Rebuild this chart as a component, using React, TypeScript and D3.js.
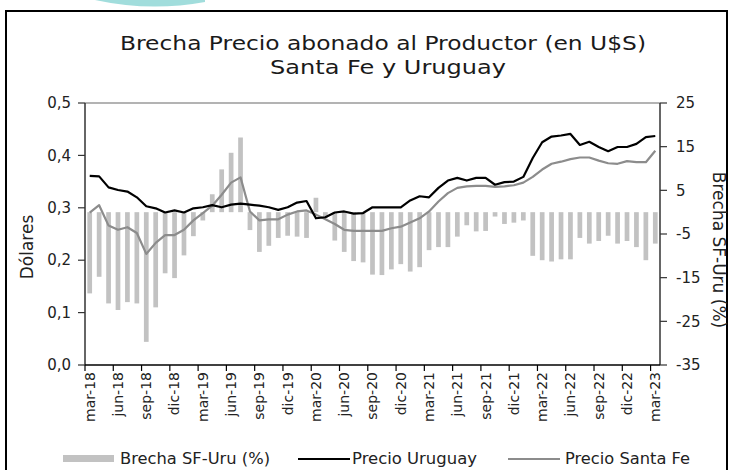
import React from "react";
import * as d3 from "d3";

const categories = [
  "mar-18","abr-18","may-18","jun-18","jul-18","ago-18","sep-18","oct-18","nov-18","dic-18","ene-19","feb-19",
  "mar-19","abr-19","may-19","jun-19","jul-19","ago-19","sep-19","oct-19","nov-19","dic-19","ene-20","feb-20",
  "mar-20","abr-20","may-20","jun-20","jul-20","ago-20","sep-20","oct-20","nov-20","dic-20","ene-21","feb-21",
  "mar-21","abr-21","may-21","jun-21","jul-21","ago-21","sep-21","oct-21","nov-21","dic-21","ene-22","feb-22",
  "mar-22","abr-22","may-22","jun-22","jul-22","ago-22","sep-22","oct-22","nov-22","dic-22","ene-23","feb-23",
  "mar-23",
];

const tickLabels = [
  "mar-18","jun-18","sep-18","dic-18","mar-19","jun-19","sep-19","dic-19","mar-20","jun-20","sep-20",
  "dic-20","mar-21","jun-21","sep-21","dic-21","mar-22","jun-22","sep-22","dic-22","mar-23",
];

const brecha = [
  -18.6,-14.8,-20.9,-22.4,-20.6,-20.9,-29.7,-21.8,-14.0,-15.1,
  -9.9,-5.5,-1.9,4.1,9.8,13.6,17.1,-4.1,-9.1,-7.7,
  -5.9,-5.4,-5.6,-5.9,3.3,-1.4,-6.5,-9.1,-11.2,-11.5,
  -14.3,-14.4,-13.1,-11.9,-13.6,-12.6,-8.7,-8.0,-8.0,-5.6,
  -3.0,-4.4,-4.3,-1.0,-2.7,-2.4,-1.9,-10.0,-11.0,-11.3,
  -10.8,-10.8,-5.9,-7.2,-6.6,-5.4,-7.2,-6.6,-8.0,-11.0,-7.2,
];

const precioUruguay = [
  0.361,0.360,0.339,0.334,0.331,0.320,0.303,0.299,0.291,0.295,
  0.291,0.299,0.301,0.305,0.301,0.306,0.308,0.306,0.304,0.301,
  0.296,0.301,0.310,0.313,0.280,0.282,0.291,0.293,0.289,0.290,
  0.301,0.301,0.301,0.301,0.314,0.322,0.320,0.338,0.352,0.357,
  0.352,0.357,0.357,0.344,0.349,0.350,0.359,0.395,0.425,0.436,
  0.438,0.441,0.420,0.426,0.416,0.408,0.416,0.416,0.422,0.435,0.437,
];

const precioSantaFe = [
  0.291,0.305,0.266,0.258,0.263,0.252,0.212,0.233,0.248,0.248,
  0.258,0.276,0.290,0.304,0.325,0.348,0.358,0.293,0.276,0.278,
  0.278,0.287,0.293,0.295,0.287,0.278,0.269,0.258,0.256,0.256,
  0.256,0.256,0.261,0.264,0.272,0.280,0.293,0.312,0.328,0.338,
  0.341,0.342,0.342,0.340,0.341,0.343,0.348,0.359,0.373,0.384,
  0.388,0.393,0.396,0.396,0.390,0.385,0.384,0.389,0.387,0.387,0.409,
];

const leftTicks = [0, 0.1, 0.2, 0.3, 0.4, 0.5];
const rightTicks = [-35, -25, -15, -5, 5, 15, 25];

const FONT = "'DejaVu Sans', sans-serif";

export default function App() {
  const L = 85, R = 660, T = 103, B = 365;
  const x = d3.scaleBand<string>().domain(categories).range([L, R]).paddingInner(0.5).paddingOuter(0.25);
  const step = x.step();
  const yL = d3.scaleLinear().domain([0, 0.5]).range([B, T]);
  const yR = d3.scaleLinear().domain([-35, 25]).range([B, T]);
  const cx = (c: string) => (x(c) as number) + x.bandwidth() / 2;
  const bandStart = (c: string) => L + categories.indexOf(c) * step;

  const lineGen = d3.line<number>().x((_, i) => cx(categories[i])).y((d) => yL(d));
  const fmt = (v: number) => v.toFixed(1).replace(".", ",");

  return (
    <svg width={731} height={470} style={{ position: "absolute", left: 0, top: 0, background: "#fff" }}>
      <rect x={0} y={0} width={731} height={470} fill="#fff" />
      <path d="M95,0 Q150,12 205,2 L205,0 Z" fill="#62c6c4" opacity={0.6} />
      <rect x={6} y={11} width={721} height={475} fill="none" stroke="#000" strokeWidth={2} />

      <text x={383} y={50} textAnchor="middle" fontFamily={FONT} fontSize={20} fill="#1a1a1a" textLength={526} lengthAdjust="spacingAndGlyphs">
        Brecha Precio abonado al Productor (en U$S)
      </text>
      <text x={388} y={74} textAnchor="middle" fontFamily={FONT} fontSize={20} fill="#1a1a1a" textLength={236} lengthAdjust="spacingAndGlyphs">
        Santa Fe y Uruguay
      </text>

      <line x1={L} x2={R} y1={T} y2={T} stroke="#9a9a9a" strokeWidth={1.5} />

      {categories.map((c, i) => {
        const v = brecha[i];
        const y0 = yR(0), y1 = yR(v);
        return (
          <rect key={c} x={x(c)} width={x.bandwidth()} y={Math.min(y0, y1)} height={Math.abs(y1 - y0)} fill="#c2c2c2" />
        );
      })}

      <path d={lineGen(precioSantaFe) as string} fill="none" stroke="#8c8c8c" strokeWidth={2.2} strokeLinejoin="round" />
      <path d={lineGen(precioUruguay) as string} fill="none" stroke="#000" strokeWidth={2.2} strokeLinejoin="round" />

      <line x1={L} x2={L} y1={T} y2={B} stroke="#333" strokeWidth={1.5} />
      <line x1={R} x2={R} y1={T} y2={B} stroke="#333" strokeWidth={1.5} />
      <line x1={L} x2={R} y1={B} y2={B} stroke="#000" strokeWidth={1.5} />

      {leftTicks.map((t) => (
        <g key={"l" + t}>
          <line x1={L - 7} x2={L} y1={yL(t)} y2={yL(t)} stroke="#333" strokeWidth={1.2} />
          <text x={71} y={yL(t)} dy="0.35em" textAnchor="end" fontFamily={FONT} fontSize={15} fill="#222">
            {fmt(t)}
          </text>
        </g>
      ))}
      {rightTicks.map((t) => (
        <g key={"r" + t}>
          <line x1={R} x2={R + 7} y1={yR(t)} y2={yR(t)} stroke="#333" strokeWidth={1.2} />
          <text x={676} y={yR(t)} dy="0.35em" textAnchor="start" fontFamily={FONT} fontSize={15} fill="#222">
            {t}
          </text>
        </g>
      ))}

      {tickLabels.map((lab) => (
        <g key={lab}>
          <line x1={bandStart(lab)} x2={bandStart(lab)} y1={B} y2={B + 6} stroke="#000" strokeWidth={1.2} />
          <text
            transform={`translate(${cx(lab)},${B + 7}) rotate(-90)`}
            textAnchor="end"
            dy="0.35em"
            fontFamily={FONT}
            fontSize={14}
            fill="#222"
          >
            {lab}
          </text>
        </g>
      ))}

      <text transform="translate(27,247) rotate(-90)" textAnchor="middle" dy="0.35em" fontFamily={FONT} fontSize={17} fill="#222">
        Dólares
      </text>
      <text transform="translate(719,250) rotate(90)" textAnchor="middle" dy="0.35em" fontFamily={FONT} fontSize={17} fill="#222">
        Brecha SF-Uru (%)
      </text>

      <rect x={63} y={455} width={51} height={7} fill="#c2c2c2" />
      <text x={120} y={459} dy="0.35em" fontFamily={FONT} fontSize={15} fill="#222" textLength={150} lengthAdjust="spacingAndGlyphs">Brecha SF-Uru (%)</text>
      <line x1={298} x2={350} y1={459} y2={459} stroke="#000" strokeWidth={2} />
      <text x={352} y={459} dy="0.35em" fontFamily={FONT} fontSize={15} fill="#222" textLength={125} lengthAdjust="spacingAndGlyphs">Precio Uruguay</text>
      <line x1={508} x2={560} y1={459} y2={459} stroke="#8c8c8c" strokeWidth={2} />
      <text x={565} y={459} dy="0.35em" fontFamily={FONT} fontSize={15} fill="#222" textLength={125} lengthAdjust="spacingAndGlyphs">Precio Santa Fe</text>
    </svg>
  );
}
